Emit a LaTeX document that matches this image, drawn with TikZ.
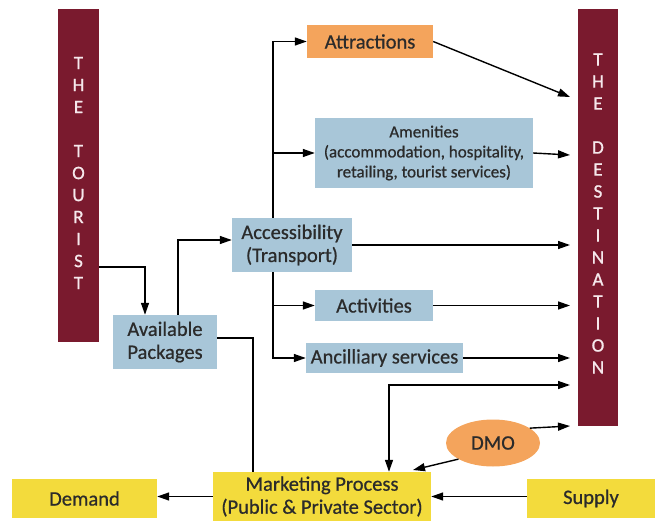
\documentclass[tikz,border=0pt]{standalone}
\usepackage{fontspec}
\setmainfont[FakeBold=0.7]{Carlito}
\newfontfamily\barfont[FakeBold=1]{Carlito}
\usetikzlibrary{arrows.meta,shapes.geometric}
\definecolor{barred}{HTML}{7A1A2E}
\definecolor{bartxt}{HTML}{F6E8EC}
\definecolor{boxblue}{HTML}{A8C6D8}
\definecolor{boxorange}{HTML}{F4A45C}
\definecolor{boxyellow}{HTML}{F3DB3C}
\definecolor{txt}{HTML}{2B2B2B}
\begin{document}
\begin{tikzpicture}[x=1pt,y=-1pt,
  >={Triangle[length=12pt,width=8pt]},
  box/.style={rectangle, inner sep=0pt, align=center, text=txt, font=\fontsize{20.5}{23}\selectfont},
  bluebox/.style={box, fill=boxblue},
  orangebox/.style={box, fill=boxorange},
  yellowbox/.style={box, fill=boxyellow},
  bar/.style={rectangle, fill=barred, inner sep=0pt},
  bartext/.style={text=bartxt, align=center, inner sep=0pt, font=\barfont\fontsize{19}{22}\selectfont},
  conn/.style={line width=1.4pt, draw=black}
]
\useasboundingbox (0,0) rectangle (659,524);

% bars
\node[bar, minimum width=41pt, minimum height=333pt] (tourist) at (78.5,175.5) {};
\node[bartext] (touristtxt) at (78.5,173) {T\\H\\E\\[22pt]T\\O\\U\\R\\I\\S\\T};
\node[bar, minimum width=40pt, minimum height=417pt] (dest) at (598,217.5) {};
\node[bartext] (desttxt) at (598,213.5) {T\\H\\E\\[22pt]D\\E\\S\\T\\I\\N\\A\\T\\I\\O\\N};

% boxes
\node[orangebox, minimum width=126pt, minimum height=33pt] (attr) at (370,41.5) {Attractions};
\node[bluebox, minimum width=218pt, minimum height=70pt, font=\fontsize{17}{20}\selectfont] (amen) at (424,153)
  {Amenities\\(accommodation, hospitality,\\retailing, tourist services)};
\node[bluebox, minimum width=120pt, minimum height=54pt] (access) at (292,245) {Accessibility\\(Transport)};
\node[bluebox, minimum width=118pt, minimum height=31pt] (activ) at (374,305.5) {Activities};
\node[bluebox, minimum width=157pt, minimum height=30pt] (ancil) at (384.5,358) {Ancilliary services};
\node[bluebox, minimum width=104pt, minimum height=54pt] (avail) at (165,342) {Available\\Packages};
\node[yellowbox, minimum width=218pt, minimum height=49pt] (mark) at (322,496.5) {Marketing Process\\(Public \& Private Sector)};
\node[yellowbox, minimum width=145pt, minimum height=39pt] (demand) at (84.5,498.5) {Demand};
\node[yellowbox, minimum width=128pt, minimum height=39pt] (supply) at (591,498.5) {Supply};
\node[ellipse, fill=boxorange, text=txt, inner sep=0pt, minimum width=94pt, minimum height=47pt, font=\fontsize{20.5}{23}\selectfont] (dmo) at (493,443) {DMO};

% helper coordinates
\coordinate (c1) at (145,267);
\coordinate (c2) at (178,240);
\coordinate (spine) at (273,0);
\coordinate (c3) at (253,0);
\coordinate (c4) at (389,385);
\coordinate (d1) at (570,97);
\coordinate (d2) at (570,155);
\coordinate (d3) at (570,242);
\coordinate (d4) at (570,385);
\coordinate (d5) at (570,426);
\coordinate (m1) at (413,470);

% connectors
\draw[conn,->] (tourist.east |- c1) -- (c1) -- (c1 |- avail.north);
\draw[conn,->] (c2 |- avail.north) -- (c2) -- (c2 -| access.west);
\draw[conn,->] (spine |- access.north) |- (attr.west);
\draw[conn,->] (spine |- access.north) |- (amen.west);
\draw[conn,->] (spine |- access.south) |- (activ.west);
\draw[conn,->] (spine |- access.south) |- (ancil.west);
\draw[conn,->] (attr.east) -- (d1);
\draw[conn,->] (amen.east) -- (d2);
\draw[conn,->] (access.east) -- (access.east -| d3);
\draw[conn,->] (activ.east) -- (activ.east -| d3);
\draw[conn,->] (ancil.east) -- (ancil.east -| d3);
\draw[conn,<->] (c4 |- mark.north) -- (c4) -- (d4);
\draw[conn] ([yshift=4pt]avail.east) -| (c3 |- mark.north);
\draw[conn,->] (dmo.205) -- (m1);
\draw[conn,->] (dmo.22) -- (d5);
\draw[conn,->] (supply.west |- mark.east) -- (mark.east);
\draw[conn,->] (mark.west) -- (mark.west -| demand.east);
\end{tikzpicture}
\end{document}
